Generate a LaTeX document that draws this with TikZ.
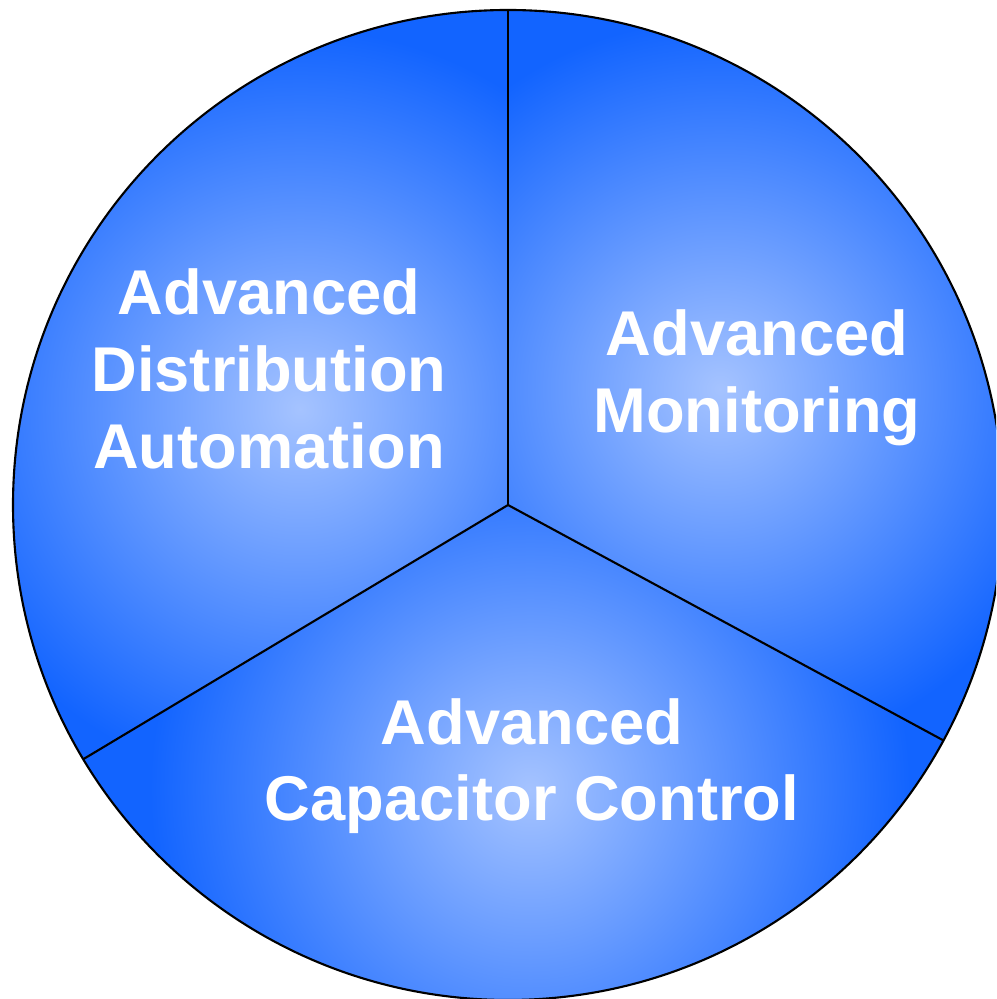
\documentclass[tikz,border=0pt]{standalone}
\usepackage{fontspec}
\setmainfont{Liberation Sans}
\usetikzlibrary{calc}
\begin{document}
\begin{tikzpicture}
\definecolor{deep}{RGB}{18,100,255}
\definecolor{light}{RGB}{165,195,255}
\tikzset{
  labeltext/.style={text=white, font=\bfseries\fontsize{18}{21.8}\selectfont, align=center, inner sep=0pt},
  edge/.style={draw=black, line width=0.6pt}
}
\useasboundingbox (0,0) rectangle (9.96,9.99);
\clip (0,0) rectangle (9.96,9.99);
\def\R{4.95}
\coordinate (C) at (5.08,4.94);
% left sector
\begin{scope}
  \clip (C) -- ++(90:\R) arc[start angle=90,end angle=210.9,radius=\R] -- cycle;
  \fill[deep] (C) circle[radius=\R];
  \shade[inner color=light, outer color=deep] (3.0,5.9) circle[radius=3.8];
\end{scope}
% right sector
\begin{scope}
  \clip (C) -- ++(-28.4:\R) arc[start angle=-28.4,end angle=90,radius=\R] -- cycle;
  \fill[deep] (C) circle[radius=\R];
  \shade[inner color=light, outer color=deep] (7.2,6.1) circle[radius=3.7];
\end{scope}
% bottom sector
\begin{scope}
  \clip (C) -- ++(210.9:\R) arc[start angle=210.9,end angle=331.6,radius=\R] -- cycle;
  \fill[deep] (C) circle[radius=\R];
  \shade[inner color=light, outer color=deep] (5.3,2.1) circle[radius=3.8];
\end{scope}
\coordinate (Top) at ($(C)+(90:\R)$);
\coordinate (LL) at ($(C)+(210.9:\R)$);
\coordinate (LR) at ($(C)+(331.6:\R)$);
\draw[edge] (C) circle[radius=\R];
\draw[edge] (C) -- (Top);
\draw[edge] (C) -- (LL);
\draw[edge] (C) -- (LR);
\node[labeltext] (ada) at (2.69,6.30) {Advanced\\Distribution\\Automation};
\node[labeltext] (am) at (7.57,6.21) {Advanced\\Monitoring};
\node[labeltext] (acc) at (5.32,2.33) {Advanced\\Capacitor Control};
\end{tikzpicture}
\end{document}
